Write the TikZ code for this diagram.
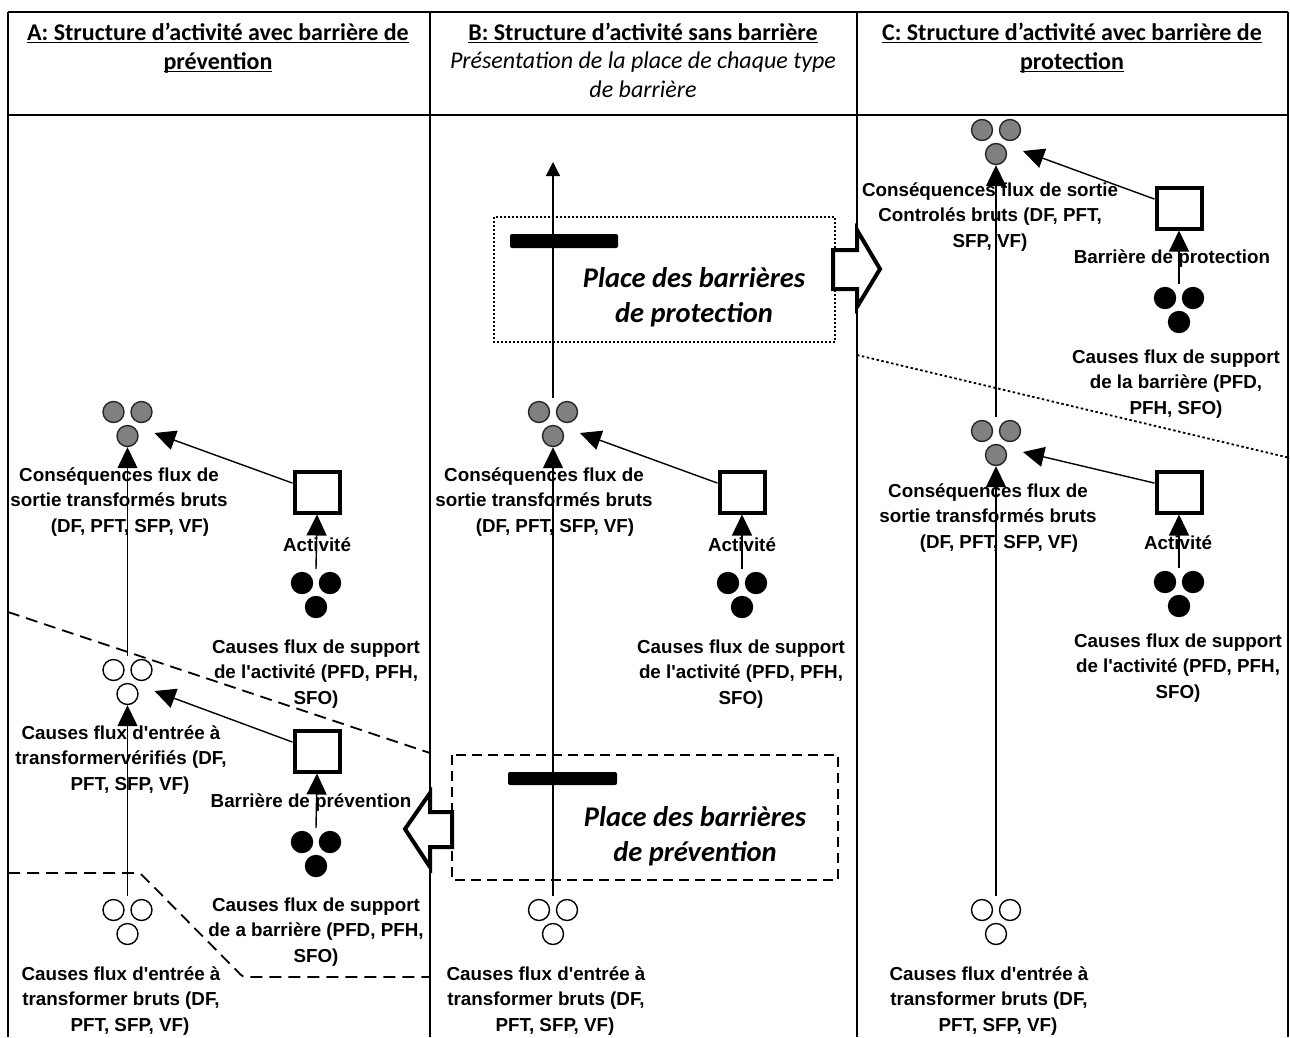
\documentclass[tikz,border=0pt]{standalone}
\usepackage{fontspec}
\setmainfont{Liberation Sans}[Ligatures=TeXOff]
\newfontfamily\calfont{Carlito}
\usetikzlibrary{arrows.meta,calc}
\newcommand\hul[1]{\underline{\smash{#1}}}
\tikzset{
  dotnode/.style={circle, inner sep=0pt, minimum size=21pt, line width=1.4pt},
  greydot/.style={fill=black!50, draw=black!85},
  whitedot/.style={fill=white, draw=black},
  blackdot/.style={fill=black, draw=black},
  pics/cluster/.style={code={
    \node[dotnode, #1] (-a) at (-14,0) {};
    \node[dotnode, #1] (-b) at (14,0) {};
    \node[dotnode, #1] (-c) at (0,24) {};
    \coordinate (-in) at (27,21);
    \coordinate (-top) at (0,-14);
  }},
  actbox/.style={draw, line width=4pt, fill=white, minimum width=45pt, minimum height=41pt, inner sep=0pt},
  arr/.style={line width=1.4pt, -{Triangle[length=21pt,width=20pt]}},
  smallarr/.style={line width=1.4pt, -{Triangle[length=14pt,width=14pt]}},
  lbl/.style={font=\fontsize{18.8}{25.5}\selectfont\bfseries, align=center, inner sep=0pt},
  hdr/.style={font=\calfont\fontsize{24}{29}\selectfont, align=center, inner sep=0pt},
  place/.style={font=\calfont\bfseries\itshape\fontsize{28.5}{35}\selectfont, align=center, inner sep=0pt},
  tbl/.style={line width=1.8pt},
  hollow/.style={line width=4pt, fill=white, line join=miter},
  dashA/.style={line width=1.8pt, dash pattern=on 12pt off 7pt},
}
\begin{document}
\begin{tikzpicture}[x=1pt,y=-1pt]
\useasboundingbox (0,0) rectangle (1290,1037);
\fill[white] (0,0) rectangle (1290,1037);

% table
\draw[tbl] (8,12) -- (1288,12);
\draw[tbl] (8,115) -- (1288,115);
\draw[tbl] (8,12) -- (8,1037);
\draw[tbl] (430,12) -- (430,1037);
\draw[tbl] (857,12) -- (857,1037);
\draw[tbl] (1288,12) -- (1288,1037);

% headers
\node[hdr] (hA) at (218,56) {\bfseries\hul{A: Structure d’activité avec barrière de}\\\bfseries\hul{prévention}};
\node[hdr, font=\calfont\fontsize{24}{28.5}\selectfont] (hB) at (643,69) {\bfseries\hul{B: Structure d’activité sans barrière}\\\itshape Présentation de la place de chaque type\\\itshape de barrière};
\node[hdr] (hC) at (1072,56) {\bfseries\hul{C: Structure d’activité avec barrière de}\\\bfseries\hul{protection}};

% dashed / dotted separators
\draw[dashA] (8,612) -- (430,753);
\draw[dashA, rounded corners=3pt] (8,873) -- (140,873) -- (243,977) -- (430,977);
\draw[line width=1.8pt, dash pattern=on 2.5pt off 2.5pt] (857,355) -- (1290,458);

% place boxes
\draw[line width=1.6pt, dash pattern=on 2pt off 2pt] (494,217) rectangle (835,342);
\draw[line width=1.6pt, dash pattern=on 10pt off 6pt] (452,755) rectangle (838,880);

% clusters
\pic (ag) at (127.5,412) {cluster=greydot};
\pic (aw) at (127.5,670) {cluster=whitedot};
\pic (aw0) at (127.5,910) {cluster=whitedot};
\pic (ab1) at (316,583) {cluster=blackdot};
\pic (ab2) at (316,842) {cluster=blackdot};
\pic (bg) at (553,412) {cluster=greydot};
\pic (bb) at (742,583) {cluster=blackdot};
\pic (bw0) at (553,910) {cluster=whitedot};
\pic (cg1) at (996,130) {cluster=greydot};
\pic (cb1) at (1179,298) {cluster=blackdot};
\pic (cg2) at (996,431) {cluster=greydot};
\pic (cb2) at (1179,582) {cluster=blackdot};
\pic (cw0) at (996,910) {cluster=whitedot};
\coordinate (btip) at (553,162);

% boxes
\node[actbox] (aA) at (317,492) {};
\node[actbox] (aP) at (317,751) {};
\node[actbox] (bA) at (742,492) {};
\node[actbox] (cP) at (1179,208) {};
\node[actbox] (cA) at (1179,492) {};

% arrows
\draw[arr] (aA.160) -- (ag-in);
\draw[arr] (ab1-top) -- (aA.south);
\draw[arr] (aw-top) -- (ag-c.south);
\draw[arr] (aP.160) -- (aw-in);
\draw[arr] (ab2-top) -- (aP.south);
\draw[arr] (aw0-top) -- (aw-c.south);
\draw[arr] (bA.160) -- (bg-in);
\draw[arr] (bb-top) -- (bA.south);
\draw[arr] (bw0-top) -- (bg-c.south);
\draw[smallarr] (bg-top) -- (btip);
\draw[arr] (cP.160) -- (cg1-in);
\draw[arr] (cb1-top) -- (cP.south);
\draw[arr] (cg2-top) -- (cg1-c.south);
\draw[arr] (cA.160) -- (cg2-in);
\draw[arr] (cb2-top) -- (cA.south);
\draw[arr] (cw0-top) -- (cg2-c.south);

% bars
\fill[rounded corners=2pt] (510,234) rectangle (618,248);
\fill[rounded corners=2pt] (508,772) rectangle (617,785);

% hollow arrows
\draw[hollow] (452,812) -- (430,812) -- (430,793) -- (405,829) -- (430,867) -- (430,847) -- (452,847) -- cycle;
\draw[hollow] (833,250) -- (857,250) -- (857,230) -- (880,269) -- (857,307) -- (857,289) -- (833,289) -- cycle;

% place texts
\node[place] (pProt) at (694,297) {Place des barrières\\de protection};
\node[place] (pPrev) at (695,836) {Place des barrières\\de prévention};

% labels A
\node[lbl] (lAout) at (119,502) {Conséquences flux de\\sortie transformés bruts\\\hspace*{22pt}(DF, PFT, SFP, VF)};
\node[lbl] (lAact) at (317,545) {Activité};
\node[lbl] (lAsup) at (316,674) {Causes flux de support\\de l'activité (PFD, PFH,\\SFO)};
\node[lbl] (lAver) at (121,760) {Causes flux d'entrée à\\transformervérifiés (DF,\\\hspace*{18pt}PFT, SFP, VF)};
\node[lbl] (lAbar) at (311,803) {Barrière de prévention};
\node[lbl] (lAsup2) at (316,932) {Causes flux de support\\de a barrière (PFD, PFH,\\SFO)};
\node[lbl] (lAin) at (121,1001) {Causes flux d'entrée à\\transformer bruts (DF,\\\hspace*{18pt}PFT, SFP, VF)};

% labels B
\node[lbl] (lBout) at (544,502) {Conséquences flux de\\sortie transformés bruts\\\hspace*{22pt}(DF, PFT, SFP, VF)};
\node[lbl] (lBact) at (742,545) {Activité};
\node[lbl] (lBsup) at (741,674) {Causes flux de support\\de l'activité (PFD, PFH,\\SFO)};
\node[lbl] (lBin) at (546,1001) {Causes flux d'entrée à\\transformer bruts (DF,\\\hspace*{18pt}PFT, SFP, VF)};

% labels C
\node[lbl] (lCtop) at (990,217) {Conséquences flux de sortie\\Controlés bruts (DF, PFT,\\SFP, VF)};
\node[lbl] (lCbar) at (1172,259) {Barrière de protection};
\node[lbl] (lCsup) at (1176,384) {Causes flux de support\\de la barrière (PFD,\\PFH, SFO)};
\node[lbl] (lCout) at (988,518) {Conséquences flux de\\sortie transformés bruts\\\hspace*{22pt}(DF, PFT, SFP, VF)};
\node[lbl] (lCact) at (1178,543) {Activité};
\node[lbl] (lCsup2) at (1178,668) {Causes flux de support\\de l'activité (PFD, PFH,\\SFO)};
\node[lbl] (lCin) at (989,1001) {Causes flux d'entrée à\\transformer bruts (DF,\\\hspace*{18pt}PFT, SFP, VF)};
\end{tikzpicture}
\end{document}
